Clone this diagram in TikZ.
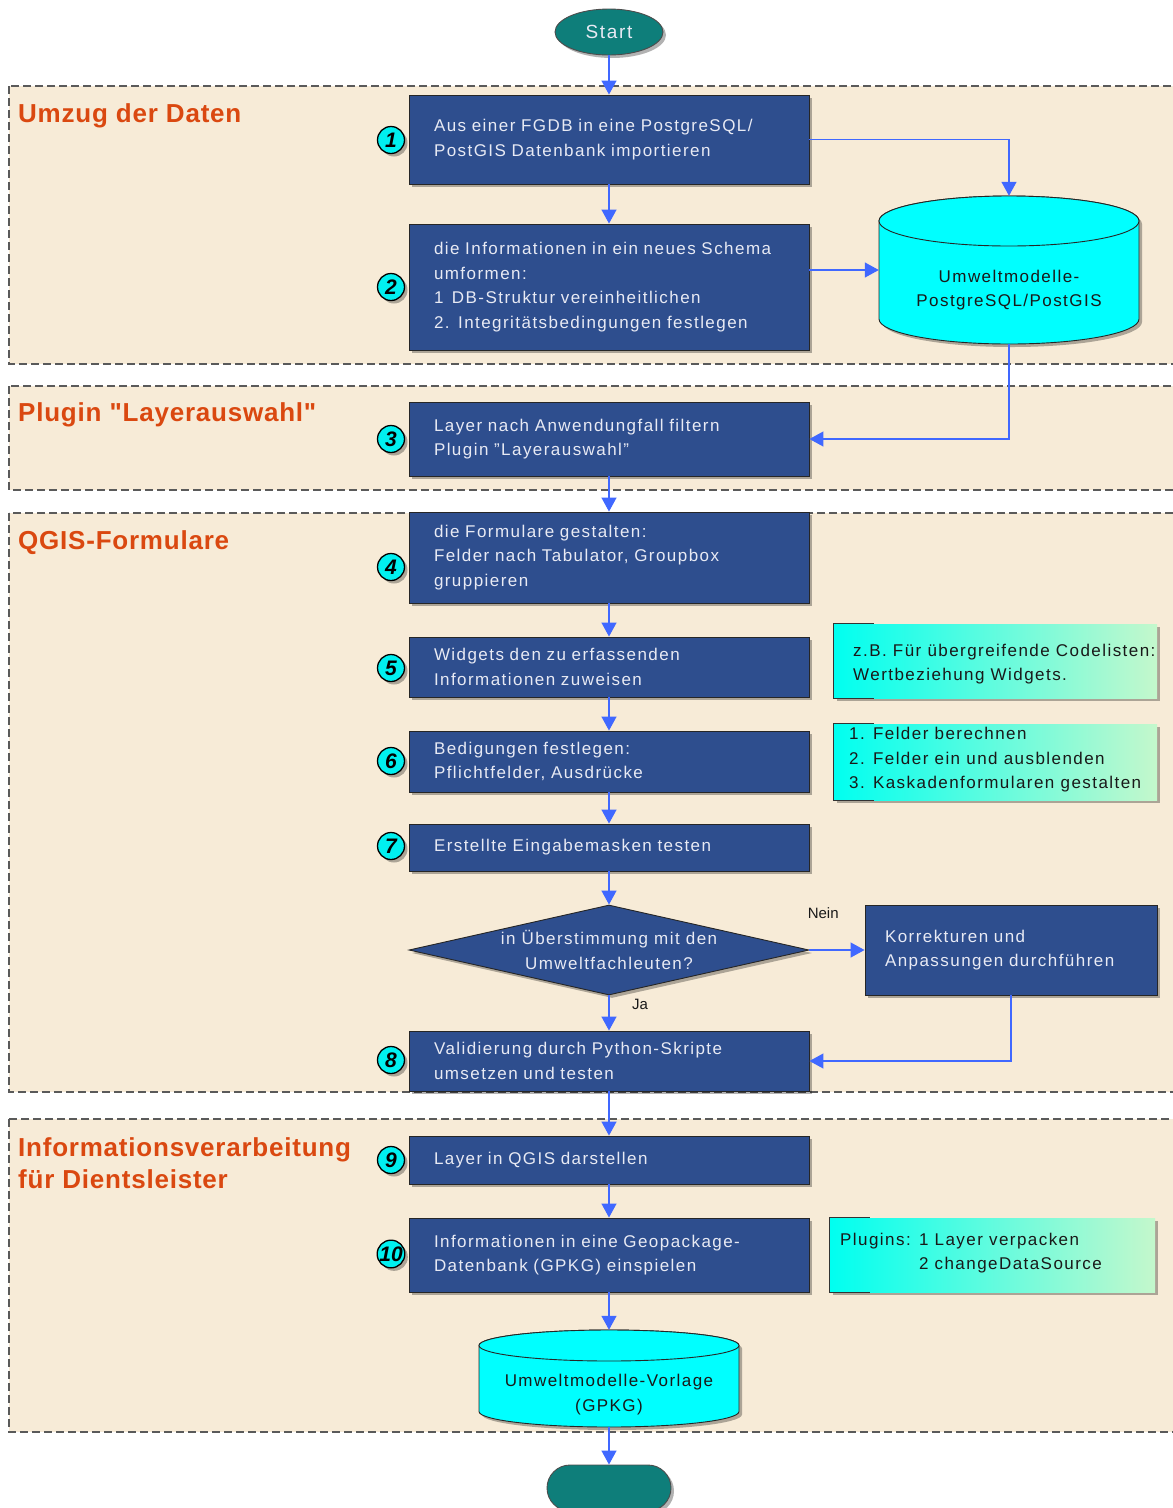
\documentclass[tikz,border=0pt]{standalone}
\usepackage{fontspec}
\setmainfont{Liberation Sans}[LetterSpace=8.5]
\newfontfamily\headfont{Liberation Sans}[LetterSpace=3]
\newfontfamily\plainfont{Liberation Sans}
\usetikzlibrary{arrows.meta,positioning,calc,shapes.geometric,shapes.misc,shadows}

\definecolor{boxblue}{RGB}{46,78,142}
\definecolor{boxtext}{RGB}{232,234,244}
\definecolor{beige}{RGB}{247,235,215}
\definecolor{framegray}{RGB}{90,90,90}
\definecolor{arrblue}{RGB}{64,104,255}
\definecolor{titlered}{RGB}{218,72,16}
\definecolor{termteal}{RGB}{14,126,122}
\definecolor{dbcyan}{RGB}{0,255,255}
\definecolor{numcyan}{RGB}{0,240,240}
\definecolor{notecyan}{RGB}{0,255,240}
\definecolor{notegreen}{RGB}{196,248,204}

\begin{document}
\begin{tikzpicture}[x=1pt, y=-1pt,
  font=\fontsize{17}{24.5}\selectfont,
  shd/.style={drop shadow={shadow xshift=3pt, shadow yshift=-3pt, opacity=0.3, fill=black}},
  bx/.style={draw=black!85, line width=0.9pt, fill=boxblue, text=boxtext, align=left,
    text width=350pt, inner xsep=25pt, inner ysep=0pt, shd},
  term/.style={rounded rectangle, draw=black!70, line width=0.9pt, fill=termteal,
    text=white, minimum height=46pt, inner sep=0pt, shd},
  num/.style={circle, draw=black, line width=1.3pt, fill=numcyan, minimum size=27pt,
    inner sep=0pt, font=\plainfont\fontsize{21}{21}\selectfont\bfseries\itshape, shd},
  arr/.style={-{Triangle[length=14pt,width=15pt]}, draw=arrblue, line width=1.3pt},
  zone/.style={draw=framegray, dash pattern=on 8pt off 4pt, line width=1.4pt, fill=beige},
  ttl/.style={anchor=base west, inner sep=0pt, text=titlered, align=left,
    font=\headfont\bfseries\fontsize{26}{32}\selectfont},
  note/.style={left color=notecyan, right color=notegreen, minimum width=323pt,
    inner sep=0pt, shd},
  notetxt/.style={anchor=west, inner sep=0pt, align=left, text=black!90},
  notebrd/.style={draw=black!80, line width=1.2pt},
  dbbody/.style={fill=dbcyan, draw=black!85, line width=0.9pt},
  dbtxt/.style={align=center, text=black!90, inner sep=0pt},
  tag/.style={font=\plainfont\fontsize{15}{15}\selectfont, text=black!90, inner sep=0pt},
  decision/.style={diamond, draw=black!85, line width=0.9pt, fill=boxblue,
    minimum width=400pt, minimum height=90pt, inner sep=0pt, shd}
]
\useasboundingbox (0,0) rectangle (1173,1508);
\clip (0,0) rectangle (1173,1508);
\fill[white] (0,0) rectangle (1173,1508);

% swimlanes
\foreach \ya/\yb in {86/364, 386/490, 513/1092, 1119/1432}
  \draw[zone] (9,\ya) rectangle (1200,\yb);
\node[ttl] (t1) at (18,122) {Umzug der Daten};
\node[ttl] (t2) at (18,421) {Plugin "Layerauswahl"};
\node[ttl] (t3) at (18,549) {QGIS-Formulare};
\node[ttl] (t4) at (18,1188) {Informationsverarbeitung\\für Dientsleister};

% main column
\node[ellipse, draw=black!70, line width=0.9pt, fill=termteal, text=boxtext, inner sep=0pt,
  minimum width=108pt, minimum height=46pt, font=\fontsize{19}{19}\selectfont, shd] (start) at (609,32) {Start};
\node[bx, minimum height=89pt] (b1) at (609,139.5) {Aus einer FGDB in eine PostgreSQL/\\PostGIS Datenbank importieren};
\node[bx, minimum height=126pt] (b2) at (609,287) {die Informationen in ein neues Schema\\umformen:\\1\enspace DB-Struktur vereinheitlichen\\2. Integritätsbedingungen festlegen};
\node[bx, minimum height=74pt] (b3) at (609,439) {Layer nach Anwendungfall filtern\\Plugin "Layerauswahl"};
\node[bx, minimum height=91pt] (b4) at (609,557.5) {die Formulare gestalten:\\Felder nach Tabulator, Groupbox\\gruppieren};
\node[bx, minimum height=60pt] (b5) at (609,667) {Widgets den zu erfassenden\\Informationen zuweisen};
\node[bx, minimum height=61pt] (b6) at (609,761.5) {Bedigungen festlegen:\\Pflichtfelder, Ausdrücke};
\node[bx, minimum height=47pt] (b7) at (609,847.5) {Erstellte Eingabemasken testen};
\node[decision] (q) at (609,950) {};
\node[align=center, text=boxtext, inner sep=0pt] (qt) at (q) {in Überstimmung mit den\\Umweltfachleuten?};
\node[bx, text width=252pt, inner xsep=20pt, minimum height=90pt] (kor) at (1011,950) {Korrekturen und\\Anpassungen durchführen};
\node[bx, minimum height=60pt] (b8) at (609,1061) {Validierung durch Python-Skripte\\umsetzen und testen};
\node[bx, minimum height=48pt] (b9) at (609,1160) {Layer in QGIS darstellen};
\node[bx, minimum height=74pt] (b10) at (609,1255) {Informationen in eine Geopackage-\\Datenbank (GPKG) einspielen};
\node[term, minimum width=124pt] (stop) at (609,1488) {};

% databases
\path[dbbody, shd] (879,221) -- (879,319) arc[start angle=180, end angle=360, x radius=130pt, y radius=25pt]
  -- (1139,221) arc[start angle=0, end angle=180, x radius=130pt, y radius=25pt] -- cycle;
\draw[dbbody] (1009,221) ellipse[x radius=130pt, y radius=25pt];
\node[minimum width=260pt, minimum height=148pt, inner sep=0pt] (db1) at (1009,270) {};
\node[dbtxt] (db1t) at ([yshift=-20pt]db1.center) {Umweltmodelle-\\PostgreSQL/PostGIS};

\path[dbbody, shd] (479,1345.5) -- (479,1411.5) arc[start angle=180, end angle=360, x radius=130pt, y radius=15.5pt]
  -- (739,1345.5) arc[start angle=0, end angle=180, x radius=130pt, y radius=15.5pt] -- cycle;
\draw[dbbody] (609,1345.5) ellipse[x radius=130pt, y radius=15.5pt];
\node[minimum width=260pt, minimum height=97pt, inner sep=0pt] (db2) at (609,1378.5) {};
\node[dbtxt] (db2t) at ([yshift=-16pt]db2.center) {Umweltmodelle-Vorlage\\(GPKG)};

% notes
\node[note, minimum height=74pt] (n5) at (995.5,661) {};
\node[note, minimum height=76pt] (n6) at (995.5,762) {};
\node[note, minimum width=325pt, minimum height=74pt] (n10) at (992.5,1255) {};
\foreach \n in {n5,n6,n10}
  \draw[notebrd] ([xshift=40pt]\n.north west) -- (\n.north west) -- (\n.south west) -- ([xshift=40pt]\n.south west);
\node[notetxt] (n5t) at (853,664) {z.B. Für übergreifende Codelisten:\\Wertbeziehung Widgets.};
\node[notetxt] (n6t) at (849,760) {1. Felder berechnen\\2. Felder ein und ausblenden\\3. Kaskadenformularen gestalten};
\node[notetxt] (n10t) at (840,1253) {Plugins: 1 Layer verpacken\\\phantom{Plugins: }2 changeDataSource};

% step numbers
\foreach \k/\y in {1/140, 2/287, 3/439, 4/567, 5/668, 6/761, 7/846, 8/1060, 9/1160, 10/1254}
  \node[num] (c\k) at (391,\y) {\k};

% connectors
\draw[arr] (start) -- (b1);
\draw[arr] (b1.east) -| (db1.north);
\draw[arr] (b1) -- (b2);
\draw[arr] (b2.east |- db1.west) -- (db1.west);
\draw[arr] (db1.south) |- (b3.east);
\draw[arr] (b3) -- (b4);
\draw[arr] (b4) -- (b5);
\draw[arr] (b5) -- (b6);
\draw[arr] (b6) -- (b7);
\draw[arr] (b7) -- (q);
\draw[arr] (q) -- node[tag, pos=0.25, xshift=31pt] {Ja} (b8);
\draw[arr] (q) -- node[tag, pos=0.25, yshift=37pt] {Nein} (kor);
\draw[arr] (kor.south) |- (b8.east);
\draw[arr] (b8) -- (b9);
\draw[arr] (b9) -- (b10);
\draw[arr] (b10) -- (db2.north);
\draw[arr] (db2.south) -- (stop);
\end{tikzpicture}
\end{document}
